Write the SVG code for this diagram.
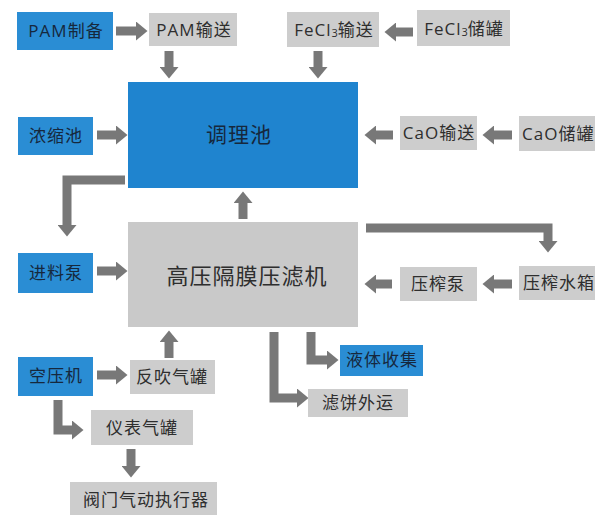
<svg xmlns="http://www.w3.org/2000/svg" width="595" height="515" viewBox="0 0 595 515">
<style>
.bl{fill:#2a8dd4}
.bb{fill:#1f84cf}
.gr{fill:#cdcdcd}
.gb{fill:#c9c9c9}
text{font-family:"Open Sans","Noto Sans CJK SC",sans-serif;font-size:17px;letter-spacing:1px;text-anchor:middle}
.tb{fill:#16283d}
.tg{fill:#2e2e2e}
.big{font-size:21px;letter-spacing:1px}
.ar{fill:none;stroke:#787878;stroke-width:9;stroke-linejoin:miter;marker-end:url(#ah)}
</style>
<defs>
<marker id="ah" markerUnits="userSpaceOnUse" markerWidth="12" markerHeight="19" refX="0" refY="9.5" orient="auto" viewBox="0 0 12 19">
<path d="M0,0 L11.5,9.5 L0,19 Z" fill="#787878"/>
</marker>
</defs>
<rect width="595" height="515" fill="#ffffff"/>
<g id="connectors">
<path class="ar" d="M116,31 H136"/>
<path class="ar" d="M169,51 V67"/>
<path class="ar" d="M413,32 H396"/>
<path class="ar" d="M318,51 V67"/>
<path class="ar" d="M97,135 H116"/>
<path class="ar" d="M393,135 H376"/>
<path class="ar" d="M512,135 H494"/>
<path class="ar" d="M125,180 H67 V225"/>
<path class="ar" d="M97,271 H116"/>
<path class="ar" d="M243,219 V203"/>
<path class="ar" d="M366,228 H548 V241"/>
<path class="ar" d="M392,284 H376"/>
<path class="ar" d="M512,284 H494"/>
<path class="ar" d="M169,358 V342"/>
<path class="ar" d="M97,375 H116"/>
<path class="ar" d="M58,400 V430 H72"/>
<path class="ar" d="M131,449 V466"/>
<path class="ar" d="M311,332 V360 H327"/>
<path class="ar" d="M274,332 V398 H297"/>
</g>
<g id="pam_prep"><rect class="bl" x="17" y="12" width="96" height="38"/><text class="tb" x="66" y="37">PAM制备</text></g>
<g id="pam_feed"><rect class="gr" x="149" y="13" width="88" height="33"/><text class="tg" x="194" y="36">PAM输送</text></g>
<g id="fecl3_feed"><rect class="gr" x="287" y="12" width="92" height="35"/><text class="tg" x="334" y="36">FeCl<tspan font-size="11" letter-spacing="0" dy="1">3</tspan><tspan dy="-1">输送</tspan></text></g>
<g id="fecl3_tank"><rect class="gr" x="417" y="10" width="93" height="36"/><text class="tg" x="464" y="35">FeCl<tspan font-size="11" letter-spacing="0" dy="1">3</tspan><tspan dy="-1">储罐</tspan></text></g>
<g id="conditioning_tank"><rect class="bb" x="128" y="82" width="230" height="106"/><text class="tb big" x="239" y="142">调理池</text></g>
<g id="thickener"><rect class="bl" x="18" y="117" width="75" height="38"/><text class="tb" x="56" y="142">浓缩池</text></g>
<g id="cao_feed"><rect class="gr" x="400" y="116" width="77" height="34"/><text class="tg" x="439" y="139">CaO输送</text></g>
<g id="cao_tank"><rect class="gr" x="519" y="116" width="81" height="35"/><text class="tg" x="522" y="140" style="text-anchor:start">CaO储罐</text></g>
<g id="feed_pump"><rect class="bl" x="18" y="253" width="75" height="40"/><text class="tb" x="56" y="279">进料泵</text></g>
<g id="filter_press"><rect class="gb" x="128" y="222" width="230" height="105"/><text class="tg big" x="247" y="284" style="font-size:22px">高压隔膜压滤机</text></g>
<g id="squeeze_pump"><rect class="gr" x="400" y="267" width="77" height="34"/><text class="tg" x="438" y="290">压榨泵</text></g>
<g id="squeeze_tank"><rect class="gr" x="519" y="266" width="81" height="34"/><text class="tg" x="523" y="289" style="text-anchor:start">压榨水箱</text></g>
<g id="liquid_collect"><rect class="bl" x="340" y="345" width="83" height="31"/><text class="tb" x="382" y="366">液体收集</text></g>
<g id="cake_out"><rect class="gr" x="308" y="389" width="100" height="28"/><text class="tg" x="358" y="409">滤饼外运</text></g>
<g id="air_compressor"><rect class="bl" x="18" y="357" width="75" height="39"/><text class="tb" x="56" y="382">空压机</text></g>
<g id="blowback_tank"><rect class="gr" x="130" y="360" width="85" height="34"/><text class="tg" x="172" y="383">反吹气罐</text></g>
<g id="instrument_tank"><rect class="gr" x="91" y="410" width="102" height="35"/><text class="tg" x="142" y="434">仪表气罐</text></g>
<g id="valve_actuator"><rect class="gr" x="70" y="482" width="147" height="40"/><text class="tg" x="146" y="506">阀门气动执行器</text></g>
</svg>
